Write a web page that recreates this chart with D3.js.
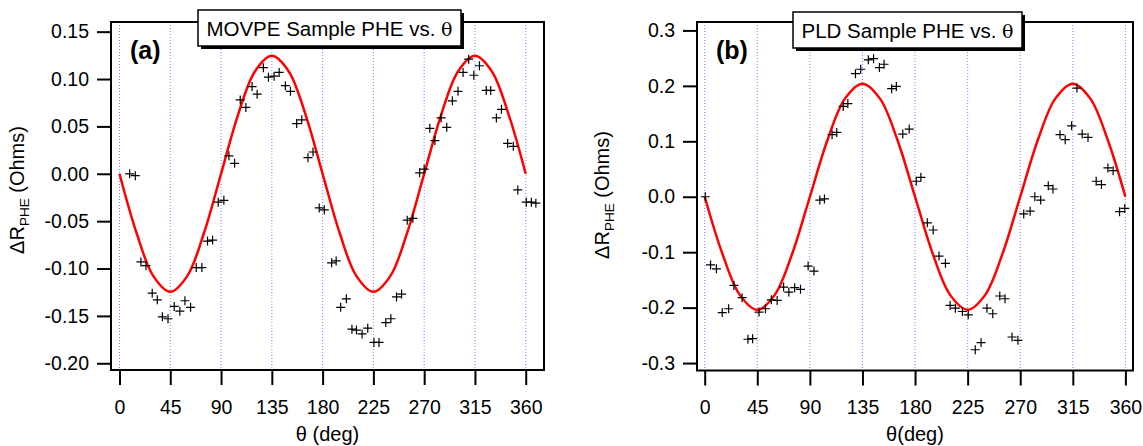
<!DOCTYPE html>
<html>
<head>
<meta charset="utf-8">
<script src="https://cdn.jsdelivr.net/npm/d3@7"></script>
<style>
body { margin: 0; background: #fff; }
svg text { font-family: "Liberation Sans", Arial, sans-serif; fill: #000; }
</style>
</head>
<body>
<div id="chart"></div>
<script>
// angle ticks shared by both panels
var xTicks = [0, 45, 90, 135, 180, 225, 270, 315, 360];
var yTicksA = [0.15, 0.10, 0.05, 0.00, -0.05, -0.10, -0.15, -0.20];
var yTicksB = [0.3, 0.2, 0.1, 0.0, -0.1, -0.2, -0.3];

// (a) MOVPE sample, measured points
var thetaA = [9, 14, 19, 23.5, 29, 33.5, 38, 43, 48.5, 53.5, 58, 63, 68, 73, 78, 82.5,
  87.5, 92.5, 97, 102, 107, 112, 117.5, 122, 127.5, 132, 137, 141.5, 147, 151.5, 157, 161.5,
  167, 171.5, 177, 181.5, 188, 192, 196, 201, 206, 210, 215, 220, 225.5, 230, 236, 240.5,
  245.5, 250, 255, 260, 266, 270, 275, 279.5, 285, 290, 295, 300, 304.5, 309.5, 314, 319,
  325, 329, 334, 338.5, 344, 349, 353, 360.5, 365, 369];
var valsA = [0.000, -0.002, -0.093, -0.097, -0.126, -0.133, -0.151, -0.153, -0.140, -0.145,
  -0.134, -0.141, -0.099, -0.099, -0.071, -0.070, -0.030, -0.028, 0.019, 0.011, 0.078, 0.070,
  0.092, 0.084, 0.112, 0.102, 0.103, 0.107, 0.093, 0.087, 0.053, 0.057, 0.017, 0.023, -0.036,
  -0.038, -0.094, -0.092, -0.141, -0.132, -0.164, -0.165, -0.169, -0.163, -0.178, -0.178,
  -0.157, -0.153, -0.130, -0.127, -0.049, -0.047, 0.001, 0.005, 0.048, 0.035, 0.059, 0.049,
  0.077, 0.087, 0.107, 0.121, 0.104, 0.114, 0.088, 0.088, 0.059, 0.068, 0.032, 0.029, -0.017,
  -0.030, -0.030, -0.031];

// (b) PLD sample, measured points
var thetaB = [0.5, 5, 10, 15, 20.5, 25, 32, 37, 41, 46.5, 52, 57, 62, 67.5, 72, 77, 82,
  88.5, 93.5, 98.5, 102.5, 109, 113, 118.5, 122.5, 129, 133.5, 140, 144.5, 149.5, 153.5, 160,
  164, 169.5, 175, 181, 185, 190.5, 195.5, 200.5, 206, 210, 214.5, 220.5, 225.5, 231.5, 236.5,
  241.5, 246.5, 252.5, 257, 263, 268, 273, 278.5, 282.5, 287.5, 294, 298, 304, 308.5, 314,
  318.5, 323, 328, 335, 339.5, 345, 349.5, 355, 359.5];
var valsB = [0.000, -0.123, -0.130, -0.209, -0.202, -0.160, -0.182, -0.257, -0.256, -0.208,
  -0.202, -0.186, -0.187, -0.163, -0.172, -0.164, -0.167, -0.125, -0.134, -0.006, -0.004,
  0.112, 0.116, 0.163, 0.168, 0.222, 0.230, 0.247, 0.249, 0.233, 0.239, 0.195, 0.199, 0.113,
  0.122, 0.028, 0.035, -0.047, -0.060, -0.107, -0.120, -0.196, -0.201, -0.207, -0.213, -0.276,
  -0.263, -0.201, -0.211, -0.179, -0.184, -0.253, -0.259, -0.031, -0.026, 0.000, -0.006,
  0.020, 0.014, 0.112, 0.103, 0.128, 0.196, 0.113, 0.107, 0.028, 0.022, 0.052, 0.047,
  -0.027, -0.021];

// fitted curves, read every 15 deg
var fitTheta = [0, 15, 30, 45, 60, 75, 90, 105, 120, 135, 150, 165, 180, 195, 210, 225,
  240, 255, 270, 285, 300, 315, 330, 345, 360];
var fitA = [0, -0.062, -0.108, -0.1245, -0.108, -0.062, 0, 0.062, 0.108, 0.1245, 0.108, 0.062,
  0, -0.062, -0.108, -0.1245, -0.108, -0.062, 0, 0.062, 0.108, 0.1245, 0.108, 0.062, 0];
var fitB = [0, -0.102, -0.177, -0.204, -0.177, -0.102, 0, 0.102, 0.177, 0.204, 0.177, 0.102,
  0, -0.102, -0.177, -0.204, -0.177, -0.102, 0, 0.102, 0.177, 0.204, 0.177, 0.102, 0];

var svg = d3.select("#chart").append("svg")
    .attr("width", 1143)
    .attr("height", 446);

svg.append("rect").attr("width", 1143).attr("height", 446).attr("fill", "#fff");

var panels = [
  { left: 111, right: 544, top: 22, bottom: 370, xDomain: [-7.53, 376.2], yDomain: [-0.2071, 0.1602],
    yTicks: yTicksA, digits: 2, theta: thetaA, vals: valsA, fit: fitA, tag: "(a)",
    title: "MOVPE Sample PHE vs. ", box: [198, 10, 263, 36], ylabX: 24, ylabY: 190, xlab: "\u03b8 (deg)" },
  { left: 697, right: 1133, top: 22, bottom: 370.5, xDomain: [-6.59, 366.5], yDomain: [-0.3134, 0.3152],
    yTicks: yTicksB, digits: 1, theta: thetaB, vals: valsB, fit: fitB, tag: "(b)",
    title: "PLD Sample PHE vs. ", box: [793, 12, 229, 36], ylabX: 609, ylabY: 195, xlab: "\u03b8(deg)" }
];

panels.forEach(function (p) {
    var x = d3.scaleLinear().domain(p.xDomain).range([p.left, p.right]);
    var y = d3.scaleLinear().domain(p.yDomain).range([p.bottom, p.top]);
    var g = svg.append("g");

    // dotted vertical grid at each angle tick
    g.selectAll("line.grid").data(xTicks).enter().append("line")
        .attr("class", "grid")
        .attr("x1", function (d) { return x(d); })
        .attr("x2", function (d) { return x(d); })
        .attr("y1", p.top)
        .attr("y2", p.bottom)
        .attr("stroke", "#8585ff")
        .attr("stroke-width", 1)
        .attr("stroke-dasharray", "1,2");

    // red fit
    var line = d3.line()
        .x(function (d, i) { return x(fitTheta[i]); })
        .y(function (d) { return y(d); })
        .curve(d3.curveCatmullRom);
    g.append("path").datum(p.fit)
        .attr("d", line)
        .attr("fill", "none")
        .attr("stroke", "#ff0000")
        .attr("stroke-width", 2.5);

    // cross markers
    g.selectAll("path.pt").data(p.theta).enter().append("path")
        .attr("class", "pt")
        .attr("transform", function (d, i) { return "translate(" + x(d) + "," + y(p.vals[i]) + ")"; })
        .attr("d", "M-4.5,0H4.5M0,-4.5V4.5")
        .attr("stroke", "#000")
        .attr("stroke-width", 1.2);

    // frame
    g.append("rect")
        .attr("x", p.left).attr("y", p.top)
        .attr("width", p.right - p.left).attr("height", p.bottom - p.top)
        .attr("fill", "none").attr("stroke", "#000").attr("stroke-width", 2);

    // axes
    var yAxis = d3.axisLeft(y).tickValues(p.yTicks)
        .tickFormat(function (d) { return d.toFixed(p.digits); })
        .tickSize(14).tickSizeOuter(0).tickPadding(8);
    var ya = g.append("g").attr("transform", "translate(" + p.left + ",0)").call(yAxis);
    var xAxis = d3.axisBottom(x).tickValues(xTicks).tickSize(15).tickSizeOuter(0).tickPadding(15);
    var xa = g.append("g").attr("transform", "translate(0," + p.bottom + ")").call(xAxis);
    [ya, xa].forEach(function (a) {
        a.select(".domain").remove();
        a.attr("font-size", 19.5).attr("font-family", "Liberation Sans, Arial, sans-serif");
        a.selectAll(".tick line").attr("stroke", "#000").attr("stroke-width", 2);
        a.selectAll(".tick text").attr("fill", "#000");
    });

    // axis titles
    var yl = g.append("text")
        .attr("transform", "translate(" + p.ylabX + "," + p.ylabY + ") rotate(-90)")
        .attr("text-anchor", "middle")
        .attr("font-size", 20);
    yl.append("tspan").text("\u0394R");
    yl.append("tspan").attr("font-size", 13.5).attr("dy", 5).text("PHE");
    yl.append("tspan").attr("dy", -5).text(" (Ohms)");

    g.append("text")
        .attr("x", (p.left + p.right) / 2)
        .attr("y", 441)
        .attr("text-anchor", "middle")
        .attr("font-size", 20)
        .text(p.xlab);

    // panel tag
    g.append("text")
        .attr("x", p.left + 19)
        .attr("y", 59)
        .attr("font-size", 25)
        .attr("font-weight", "bold")
        .text(p.tag);

    // title box with drop shadow
    var b = p.box;
    g.append("rect").attr("x", b[0] + 3).attr("y", b[1] + 3).attr("width", b[2]).attr("height", b[3]).attr("fill", "#000");
    g.append("rect").attr("x", b[0]).attr("y", b[1]).attr("width", b[2]).attr("height", b[3])
        .attr("fill", "#fff").attr("stroke", "#000").attr("stroke-width", 1.5);
    var t = g.append("text")
        .attr("x", b[0] + b[2] / 2)
        .attr("y", b[1] + 26)
        .attr("text-anchor", "middle")
        .attr("font-size", 20.5);
    t.append("tspan").text(p.title);
    t.append("tspan").attr("font-family", "DejaVu Serif, serif").attr("font-size", 19).text("\u03b8");
});
</script>
</body>
</html>
